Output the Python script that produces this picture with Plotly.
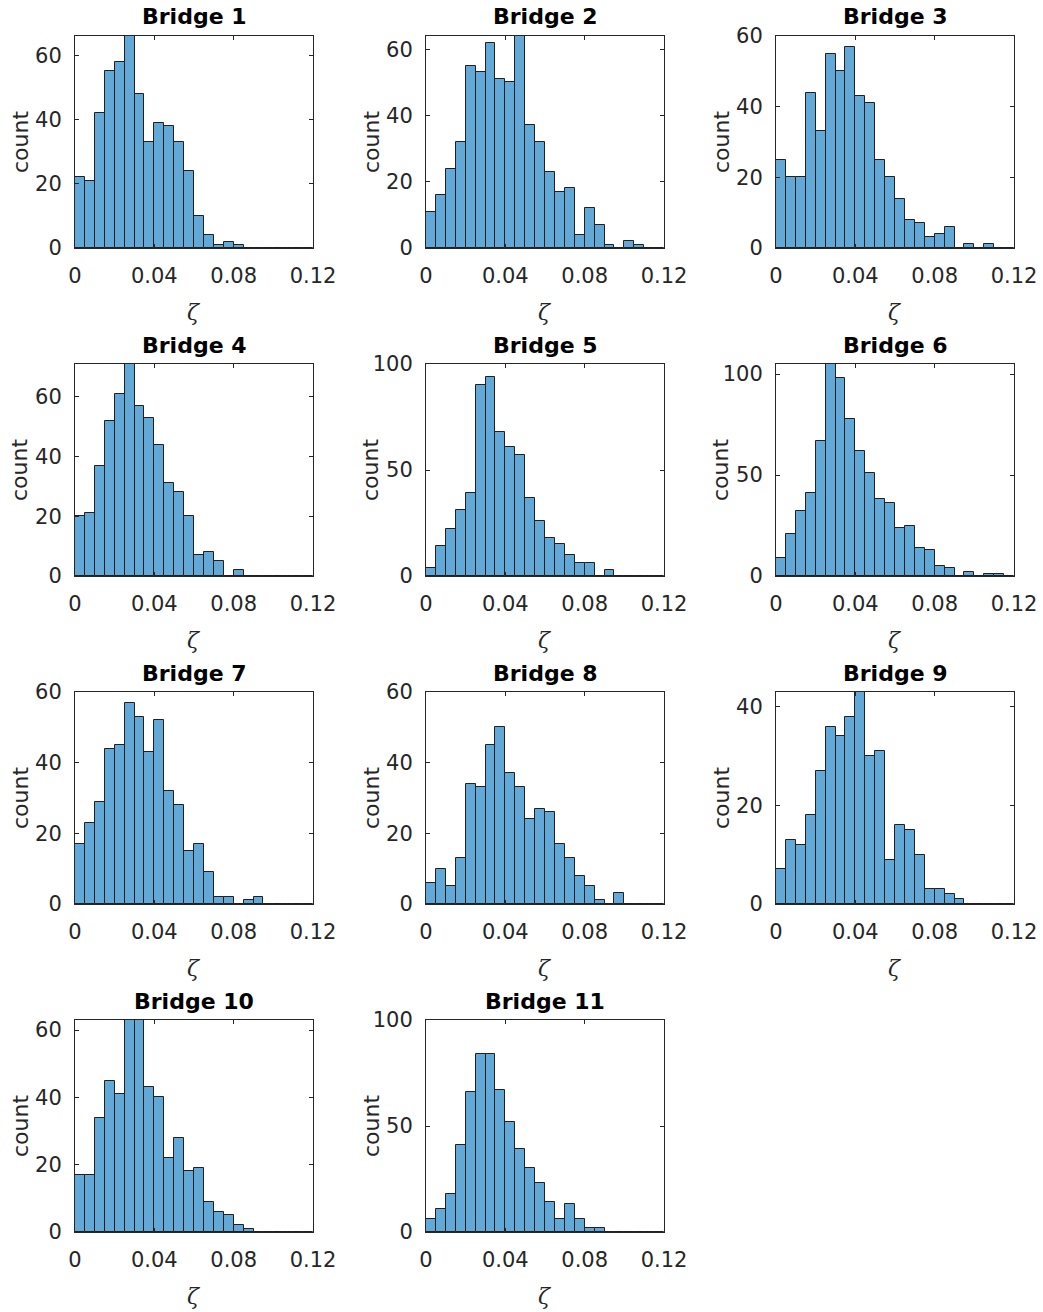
import numpy as np
import plotly.graph_objects as go

# Histogram bins (damping ratio zeta), shared by all bridges
BIN_WIDTH = 0.005
N_BINS = 24
bin_left = np.arange(N_BINS) * BIN_WIDTH
bin_centers = bin_left + BIN_WIDTH / 2

# Counts per bin for each bridge
bridge_1 = [22, 21, 42, 55, 58, 66, 48, 33, 39, 38, 33, 24, 10, 4, 1, 2, 1, 0, 0, 0, 0, 0, 0, 0]
bridge_2 = [11, 16, 24, 32, 55, 53, 62, 51, 50, 64, 37, 32, 23, 17, 18, 4, 12, 7, 1, 0, 2, 1, 0, 0]
bridge_3 = [25, 20, 20, 44, 33, 55, 50, 57, 43, 41, 25, 20, 14, 8, 7, 3, 4, 6, 0, 1, 0, 1, 0, 0]
bridge_4 = [20, 21, 37, 52, 61, 71, 57, 53, 44, 31, 28, 20, 7, 8, 5, 0, 2, 0, 0, 0, 0, 0, 0, 0]
bridge_5 = [4, 14, 22, 31, 39, 90, 94, 68, 61, 57, 37, 26, 18, 15, 10, 6, 6, 0, 3, 0, 0, 0, 0, 0]
bridge_6 = [9, 21, 32, 41, 67, 105, 98, 78, 62, 51, 38, 36, 24, 25, 14, 13, 5, 4, 0, 2, 0, 1, 1, 0]
bridge_7 = [17, 23, 29, 44, 45, 57, 53, 43, 52, 32, 28, 15, 17, 9, 2, 2, 0, 1, 2, 0, 0, 0, 0, 0]
bridge_8 = [6, 10, 5, 13, 34, 33, 45, 50, 37, 33, 24, 27, 26, 17, 13, 8, 5, 1, 0, 3, 0, 0, 0, 0]
bridge_9 = [7, 13, 12, 18, 27, 36, 34, 38, 43, 30, 31, 9, 16, 15, 10, 3, 3, 2, 1, 0, 0, 0, 0, 0]
bridge_10 = [17, 17, 34, 45, 41, 63, 63, 43, 40, 22, 28, 18, 19, 9, 6, 5, 2, 1, 0, 0, 0, 0, 0, 0]
bridge_11 = [6, 11, 18, 41, 66, 84, 84, 67, 52, 39, 30, 23, 14, 6, 13, 6, 2, 2, 0, 0, 0, 0, 0, 0]

counts = [bridge_1, bridge_2, bridge_3, bridge_4, bridge_5, bridge_6,
          bridge_7, bridge_8, bridge_9, bridge_10, bridge_11]
titles = [f"Bridge {i}" for i in range(1, 12)]

# Axis limits and ticks
y_upper = [66, 64, 60, 71, 100, 105, 60, 60, 43, 63, 100]
y_dtick = [20, 20, 20, 20, 50, 50, 20, 20, 20, 20, 50]
x_tickvals = [0, 0.04, 0.08, 0.12]
x_ticktext = ["0", "0.04", "0.08", "0.12"]

# Page geometry (pixels)
W, H = 1043, 1312
col_left = [75, 426, 776]
row_top = [36, 364, 692, 1020]
BOX_W, BOX_H = 238, 212

FILL = "rgb(99,169,216)"
EDGE = "rgb(32,32,32)"
AXIS = "rgb(38,38,38)"
FONT = "DejaVu Sans"


def px_x(x):
    return x / W


def px_y(y):
    return 1 - y / H


fig = go.Figure()
annotations = []

for i, (c, title) in enumerate(zip(counts, titles)):
    r, col = divmod(i, 3)
    left, top = col_left[col], row_top[r]
    right, bottom = left + BOX_W, top + BOX_H
    n = i + 1
    xa = "x" if n == 1 else f"x{n}"
    ya = "y" if n == 1 else f"y{n}"

    fig.add_trace(go.Bar(
        x=bin_centers, y=c, width=BIN_WIDTH,
        marker=dict(color=FILL, line=dict(color=EDGE, width=1)),
        xaxis=xa, yaxis=ya, showlegend=False, hoverinfo="x+y",
    ))

    common = dict(
        showline=True, linecolor=AXIS, linewidth=1, mirror="ticks",
        ticks="inside", ticklen=4, tickcolor=AXIS, tickwidth=1,
        showgrid=False, zeroline=False, fixedrange=True, automargin=False,
        tickfont=dict(family=FONT, size=21, color=AXIS),
    )
    fig.layout[f"xaxis{'' if n == 1 else n}"] = dict(
        common, domain=[px_x(left), px_x(right)], range=[0, 0.12],
        anchor=ya, tickvals=x_tickvals, ticktext=x_ticktext,
        ticklabelstandoff=9,
    )
    fig.layout[f"yaxis{'' if n == 1 else n}"] = dict(
        common, domain=[px_y(bottom), px_y(top)], range=[0, y_upper[i]],
        anchor=xa, tick0=0, dtick=y_dtick[i], ticklabelstandoff=8,
    )

    cx = (left + right) / 2
    annotations.append(dict(
        text=f"<b>{title}</b>", x=px_x(cx), y=px_y(top - 19),
        xref="paper", yref="paper", showarrow=False,
        xanchor="center", yanchor="middle",
        font=dict(family=FONT, size=22, color="black"),
    ))
    annotations.append(dict(
        text="<i>ζ</i>", x=px_x(cx), y=px_y(bottom + 64),
        xref="paper", yref="paper", showarrow=False,
        xanchor="center", yanchor="middle",
        font=dict(family="DejaVu Serif", size=22, color=AXIS),
    ))
    annotations.append(dict(
        text="count", x=px_x(left - 55), y=px_y((top + bottom) / 2),
        xref="paper", yref="paper", showarrow=False, textangle=-90,
        xanchor="center", yanchor="middle",
        font=dict(family=FONT, size=22, color=AXIS),
    ))

fig.update_layout(
    template="none",
    width=W, height=H,
    margin=dict(l=0, r=0, t=0, b=0, autoexpand=False),
    paper_bgcolor="white", plot_bgcolor="white",
    annotations=annotations,
    bargap=0,
)

fig.write_html("out.html")
